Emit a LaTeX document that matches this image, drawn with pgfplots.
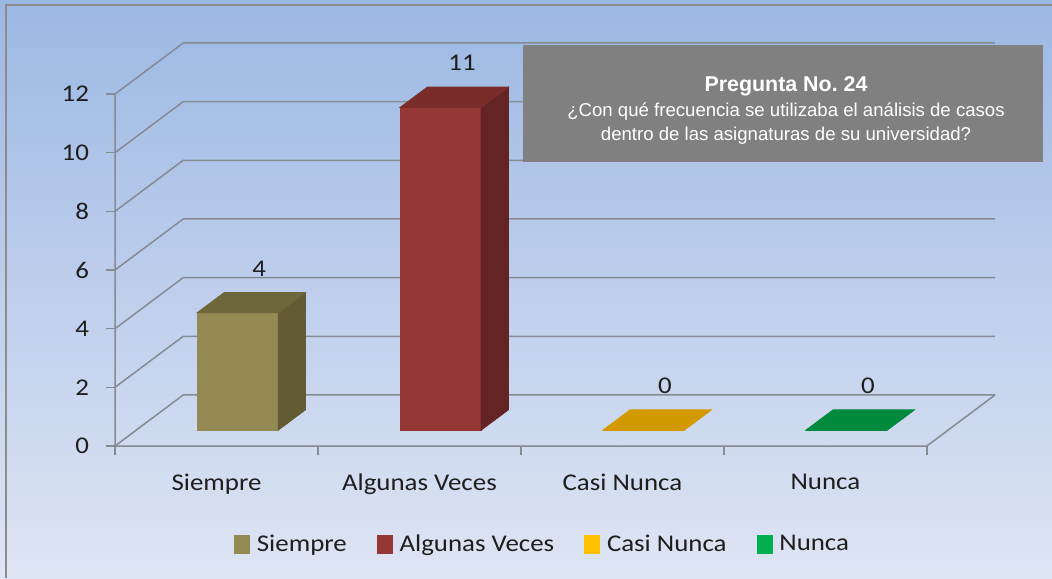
\documentclass[border=0pt]{standalone}
\usepackage{fontspec}
\setmainfont[FakeStretch=1.12]{Carlito}
\newfontfamily\arial{Liberation Sans}
\usepackage{pgfplots}
\pgfplotsset{compat=1.18}
\definecolor{bgtop}{RGB}{155,184,227}
\definecolor{bgbot}{RGB}{222,229,243}
\definecolor{gridc}{RGB}{134,138,146}
\definecolor{sfront}{RGB}{147,137,83}
\definecolor{sside}{RGB}{98,91,52}
\definecolor{stop}{RGB}{111,103,60}
\definecolor{afront}{RGB}{149,55,53}
\definecolor{aside}{RGB}{99,36,35}
\definecolor{atop}{RGB}{122,44,42}
\definecolor{ctop}{RGB}{210,154,0}
\definecolor{cleg}{RGB}{255,192,0}
\definecolor{ntop}{RGB}{0,138,62}
\definecolor{nleg}{RGB}{0,176,80}
\definecolor{txt}{RGB}{30,30,30}
\definecolor{boxc}{RGB}{128,128,128}
\definecolor{bgmid}{RGB}{190,206,236}
\pgfplotsset{
  bar3d/.style n args={4}{
    scatter, only marks, mark=*, mark size=0pt,
    visualization depends on={rawy \as \h},
    scatter/@pre marker code/.code={
      \fill[#1] (axis direction cs:-0.096,{0.54-\h}) -- (axis direction cs:0.304,{0.54-\h})
        -- (axis direction cs:0.304,0.54) -- (axis direction cs:-0.096,0.54) -- cycle;
      \fill[#2] (axis direction cs:0.304,{0.54-\h}) -- (axis direction cs:0.4386,{1.235-\h})
        -- (axis direction cs:0.4386,1.235) -- (axis direction cs:0.304,0.54) -- cycle;
      \fill[#3] (axis direction cs:-0.096,0.54) -- (axis direction cs:0.304,0.54)
        -- (axis direction cs:0.4386,1.235) -- (axis direction cs:0.0386,1.235) -- cycle;
      \node[font=\fontsize{12}{14}\selectfont, text=txt, inner sep=0pt] at (axis direction cs:0.21,2.05)
        {\pgfmathprintnumber[assume math mode=true]{\h}};
    },
    scatter/@post marker code/.code={},
    legend image code/.code={\fill[#4] (0pt,-4.5pt) rectangle (7.5pt,4.5pt);},
  }
}
\begin{document}
\begin{tikzpicture}
% background (1px = 0.5pt, origin at pixel (115,446))
\shade[top color=bgtop, bottom color=bgbot, middle color=bgmid] (-57.5pt,-66pt) rectangle (468.5pt,223pt);
\useasboundingbox (-57.5pt,-66pt) rectangle (468.5pt,223pt);
\draw[line width=1.3pt, gray!90] (-54.5pt,-66pt) -- (-54.5pt,220.5pt) -- (468.5pt,220.5pt);
\begin{axis}[
  at={(0pt,0pt)}, anchor=south west,
  scale only axis, width=440pt, height=201.5pt,
  xmin=-0.5, xmax=3.836, ymin=0, ymax=13.74,
  clip=false,
  axis lines*=left, axis line style={draw=none},
  xtick={0,1,2,3},
  xticklabels={Siempre, Algunas Veces, Casi Nunca, Nunca},
  ytick={0,2,...,12},
  tick align=outside,
  x tick style={draw=none},
  y tick style={gridc, line width=0.75pt},
  major tick length=4.5pt,
  /pgf/number format/assume math mode=true,
  ticklabel style={font=\fontsize{12}{14}\selectfont, text=txt},
  yticklabel style={xshift=-5pt},
  xticklabel style={yshift=-6pt},
  legend style={at={(0.487,-0.245)}, anchor=center, draw=none, fill=none,
    legend columns=4, font=\fontsize{12}{14}\selectfont, text=txt,
    /tikz/every odd column/.append style={column sep=1.5pt},
    /tikz/every even column/.append style={column sep=13pt}},
  legend cell align=left,
]
% walls and grid
\pgfplotsinvokeforeach{0,2,4,6,8,10,12}{
  \draw[gridc, line width=0.75pt] (axis cs:-0.5,#1) -- (axis cs:-0.164,{#1+1.74}) -- (axis cs:3.836,{#1+1.74});
}
\draw[gridc, line width=0.75pt] (axis cs:-0.5,12) -- (axis cs:-0.5,0) -- (axis cs:3.5,0) -- (axis cs:3.836,1.74);
\pgfplotsinvokeforeach{-0.5,0.5,1.5,2.5,3.5}{
  \draw[gridc, line width=0.75pt] (axis cs:#1,0) -- ++(0pt,-4.5pt);
}
\addplot[bar3d={sfront}{sside}{stop}{sfront}] coordinates {(0,4)};
\addlegendentry{Siempre}
\addplot[bar3d={afront}{aside}{atop}{afront}] coordinates {(1,11)};
\addlegendentry{Algunas Veces}
\addplot[bar3d={ctop}{ctop}{ctop}{cleg}] coordinates {(2,0)};
\addlegendentry{Casi Nunca}
\addplot[bar3d={ntop}{ntop}{ntop}{nleg}] coordinates {(3,0)};
\addlegendentry{Nunca}
\end{axis}
% title box
\fill[boxc] (204pt,200.5pt) rectangle (464pt,142pt);
\node[text=white, align=center, inner sep=0pt, anchor=center] at (335.5pt,168pt)
  {\arial\fontsize{10.7}{13}\selectfont\bfseries Pregunta No.\ 24\\[0.5pt]
   \arial\fontsize{9.3}{11}\selectfont ¿Con qué frecuencia se utilizaba el análisis de casos\\
   \arial\fontsize{9.3}{11}\selectfont dentro de las asignaturas de su universidad?};
\end{tikzpicture}
\end{document}
